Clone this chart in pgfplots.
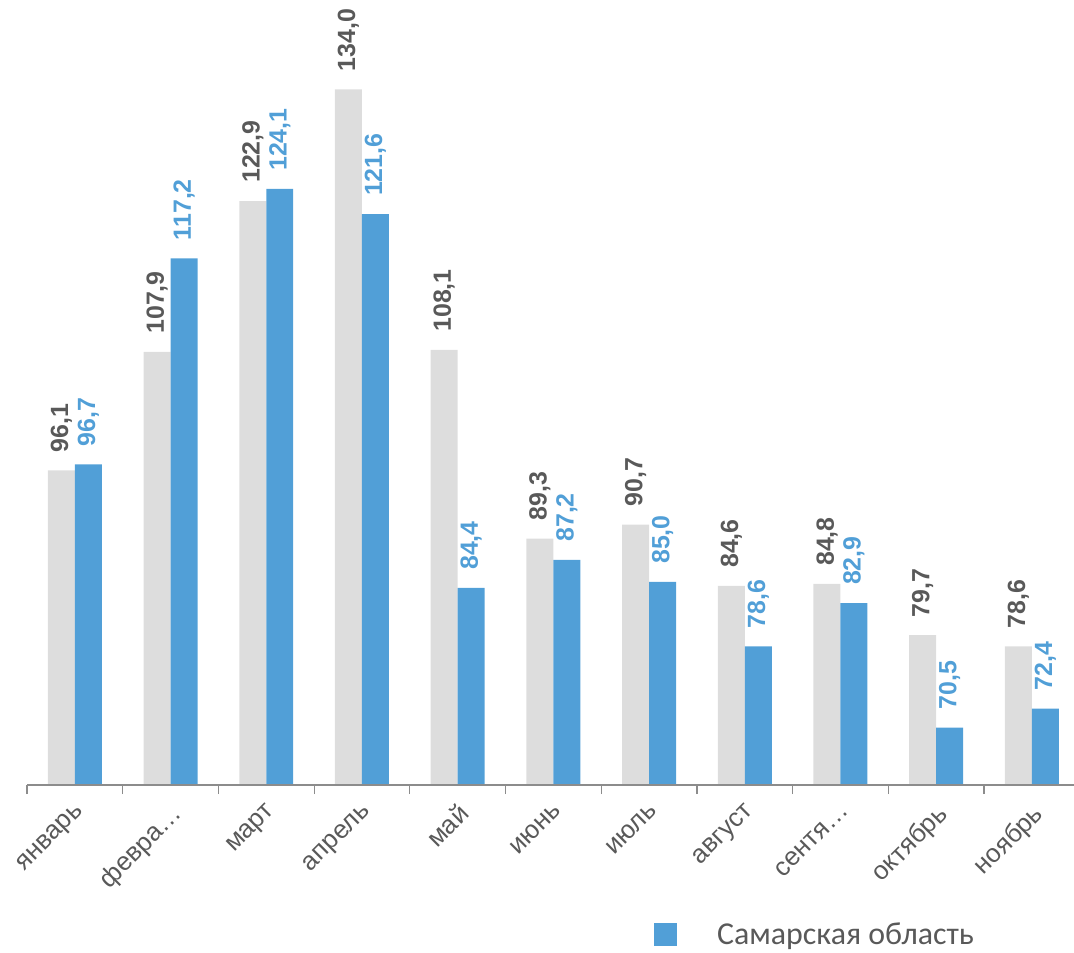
\documentclass[border=0pt]{standalone}
\usepackage{pgfplots}
\pgfplotsset{compat=1.18}
\usepackage{fontspec}
\setmainfont{Liberation Sans}
\newfontfamily\carlito{Carlito}
\definecolor{bargrey}{HTML}{DDDDDD}
\definecolor{barblue}{HTML}{519FD7}
\definecolor{txtgrey}{HTML}{595959}
\definecolor{axgrey}{HTML}{8C8C8C}
\begin{document}
\begin{tikzpicture}
\useasboundingbox (0,0) rectangle (1074bp,953bp);
\begin{axis}[
  at={(27bp,168bp)}, anchor=south west,
  scale only axis, width=1047bp, height=786bp,
  xmin=-0.5, xmax=10.44, ymin=64.8, ymax=143,
  axis on top,
  axis x line*=bottom, axis y line=none,
  x axis line style={axgrey, line width=1.2bp, -},
  xtick={0,...,10},
  xticklabels={январь,февра…,март,апрель,май,июнь,июль,август,сентя…,октябрь,ноябрь},
  major tick length=0pt,
  minor xtick={-0.5,0.5,...,10.5},
  minor tick length=9bp,
  minor x tick style={axgrey, line width=1.2bp},
  tick align=outside,
  xticklabel style={xshift=-1bp, yshift=-14bp, rotate=45, anchor=north east, font=\fontsize{26}{30}\selectfont, text=txtgrey, inner sep=2bp},
  ybar,
  bar width=0.282,
  nodes near coords={\pgfmathprintnumber[use comma,fixed,fixed zerofill,precision=1,assume math mode=true]{\pgfplotspointmeta}},
  every node near coord/.append style={rotate=90, anchor=west, font=\fontsize{25}{30}\selectfont\bfseries, inner xsep=18bp, inner ysep=0pt},
  legend style={at={(0.599,-0.190)}, anchor=west, draw=none, fill=none, inner sep=0pt, outer sep=0pt,
    font=\carlito\fontsize{32}{38}\selectfont, text=txtgrey, nodes={inner sep=0pt},
    /tikz/every odd column/.append style={column sep=40bp}},
  legend image code/.code={\fill[barblue] (0bp,-11.5bp) rectangle (23bp,11.5bp);},
]
\addplot[fill=bargrey, draw=none, bar shift=-0.141, forget plot,
  every node near coord/.append style={text=txtgrey}] coordinates {
  (0,96.1) (1,107.9) (2,122.9) (3,134.0) (4,108.1) (5,89.3) (6,90.7) (7,84.6) (8,84.8) (9,79.7) (10,78.6)};
\addplot[fill=barblue, draw=none, bar shift=0.141,
  every node near coord/.append style={text=barblue}] coordinates {
  (0,96.7) (1,117.2) (2,124.1) (3,121.6) (4,84.4) (5,87.2) (6,85.0) (7,78.6) (8,82.9) (9,70.5) (10,72.4)};
\addlegendentry{Самарская область}
\end{axis}
\end{tikzpicture}
\end{document}
